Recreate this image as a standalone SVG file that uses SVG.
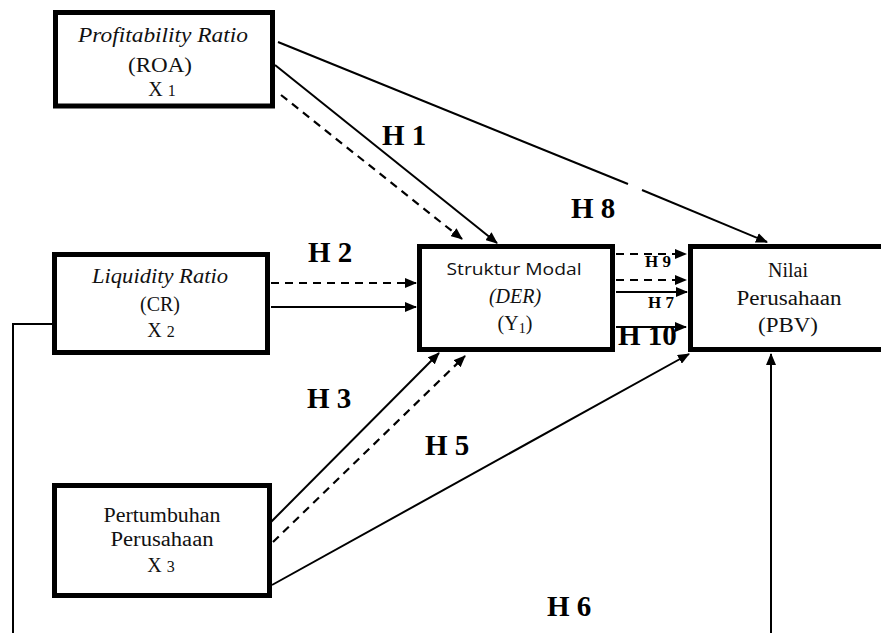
<svg xmlns="http://www.w3.org/2000/svg" width="881" height="633" viewBox="0 0 881 633">
<style>
.box{fill:#fff;stroke:#000;stroke-width:5}
.t{font-family:"Liberation Serif","Times New Roman",serif;font-size:20px;fill:#111;text-anchor:middle}
.it{font-style:italic}
.sans{font-family:"Open Sans","Liberation Sans",sans-serif;font-size:16px;fill:#111;text-anchor:middle}
.lbl{font-family:"Liberation Serif","Times New Roman",serif;font-weight:bold;font-size:29px;fill:#000}
.lbls{font-family:"Liberation Serif","Times New Roman",serif;font-weight:bold;font-size:17px;fill:#000}
.c{fill:none;stroke:#000;stroke-width:2}
.d{fill:none;stroke:#000;stroke-width:2.2;stroke-dasharray:8 6}
</style>
<defs>
<marker id="ah" markerWidth="12" markerHeight="10" refX="11" refY="5" orient="auto" markerUnits="userSpaceOnUse">
<path d="M0,0 L12,5 L0,10 Z" fill="#000"/>
</marker>
</defs>
<rect width="881" height="633" fill="#fff"/>
<g id="connectors">
<path class="c" d="M278,42 L628,184"/>
<path class="c" d="M642,190 L767,242" marker-end="url(#ah)"/>
<path class="c" d="M275,65 L497,243" marker-end="url(#ah)"/>
<path class="d" d="M281,95 L462,239" marker-end="url(#ah)"/>
<path class="d" d="M271,283 L416,283" marker-end="url(#ah)"/>
<path class="c" d="M271,307 L416,307" marker-end="url(#ah)"/>
<path class="d" d="M616,254 L686,254" marker-end="url(#ah)"/>
<path class="d" d="M616,280 L686,280" marker-end="url(#ah)"/>
<path class="c" d="M616,292 L687,292" marker-end="url(#ah)"/>
<path class="c" d="M616,327 L686,327" marker-end="url(#ah)"/>
<path class="c" d="M271,522 L439,353" marker-end="url(#ah)"/>
<path class="d" d="M273,542 L465,356" marker-end="url(#ah)"/>
<path class="c" d="M272,585 L689,354" marker-end="url(#ah)"/>
<path class="c" d="M52,324 L13,324 L13,633"/>
<path class="c" d="M771,633 L771,354" marker-end="url(#ah)"/>
</g>
<g id="x1">
<rect class="box" x="55.5" y="12.5" width="217" height="93.5"/>
<text class="t it" x="163" y="42" textLength="170" lengthAdjust="spacingAndGlyphs">Profitability Ratio</text>
<text class="t" x="160" y="72" textLength="64" lengthAdjust="spacingAndGlyphs">(ROA)</text>
<text class="t" x="162" y="96">X <tspan font-size="16">1</tspan></text>
</g>
<g id="x2">
<rect class="box" x="54.5" y="254.5" width="213" height="98"/>
<text class="t it" x="160" y="283" textLength="136" lengthAdjust="spacingAndGlyphs">Liquidity Ratio</text>
<text class="t" x="160" y="311">(CR)</text>
<text class="t" x="161" y="337">X <tspan font-size="16">2</tspan></text>
</g>
<g id="x3">
<rect class="box" x="54.5" y="485.5" width="215" height="110"/>
<text class="t" x="162" y="522" textLength="117" lengthAdjust="spacingAndGlyphs">Pertumbuhan</text>
<text class="t" x="162" y="546" textLength="103" lengthAdjust="spacingAndGlyphs">Perusahaan</text>
<text class="t" x="161" y="572">X <tspan font-size="16">3</tspan></text>
</g>
<g id="y1">
<rect class="box" x="419.5" y="246.5" width="193" height="103"/>
<text class="sans" x="514" y="275" textLength="135" lengthAdjust="spacingAndGlyphs">Struktur Modal</text>
<text class="t it" x="515" y="303">(DER)</text>
<text class="t" x="515" y="330">(Y<tspan font-size="14" dy="3">1</tspan><tspan dy="-3">)</tspan></text>
</g>
<g id="pbv">
<rect class="box" x="690.5" y="246.5" width="200" height="103"/>
<text class="t" x="788" y="277">Nilai</text>
<text class="t" x="789" y="305" textLength="105" lengthAdjust="spacingAndGlyphs">Perusahaan</text>
<text class="t" x="788" y="332" textLength="60" lengthAdjust="spacingAndGlyphs">(PBV)</text>
</g>
<g id="labels">
<text class="lbl" x="382" y="145">H 1</text>
<text class="lbl" x="571" y="218">H 8</text>
<text class="lbl" x="308" y="262">H 2</text>
<text class="lbls" x="645" y="267">H 9</text>
<text class="lbls" x="648" y="308">H 7</text>
<text class="lbl" x="618" y="345" font-size="26">H 10</text>
<text class="lbl" x="307" y="408">H 3</text>
<text class="lbl" x="425" y="455">H 5</text>
<text class="lbl" x="547" y="616">H 6</text>
</g>
</svg>
